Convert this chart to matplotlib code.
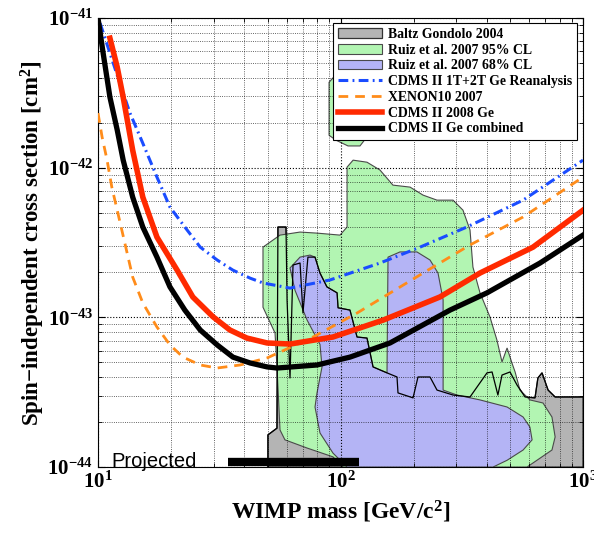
import matplotlib
matplotlib.use("Agg")
import matplotlib.pyplot as plt
from matplotlib.ticker import FixedLocator, FixedFormatter, LogLocator, NullFormatter

plt.rcParams['font.family'] = ['Liberation Serif', 'DejaVu Serif']
plt.rcParams['font.weight'] = 'bold'
plt.rcParams['mathtext.fontset'] = 'custom'
plt.rcParams['mathtext.rm'] = 'Liberation Serif:bold'
plt.rcParams['mathtext.bf'] = 'Liberation Serif:bold'
plt.rcParams['mathtext.it'] = 'Liberation Serif:bold:italic'

# --- limit curves (WIMP mass in GeV/c^2, cross section in cm^2) ---
combined_m = [10, 10.5, 11.2, 12.0, 12.7, 13.9, 15.3, 17.5, 19.8, 22.8, 26.4, 31.0, 36.0, 42.4, 49.8,
              54.7, 80.0, 109.4, 160, 283, 402, 665, 1000]
combined_s = [1e-41, 5.84e-42, 2.96e-42, 1.79e-42, 1.125e-42, 6.37e-43, 4.02e-43, 2.53e-43, 1.60e-43,
              1.12e-43, 8.24e-44, 6.55e-44, 5.43e-44, 4.96e-44, 4.67e-44, 4.59e-44, 4.81e-44, 5.43e-44,
              6.75e-44, 1.12e-43, 1.46e-43, 2.31e-43, 3.55e-43]

cdms08_m = [11.2, 12.0, 12.7, 13.9, 15.3, 17.5, 21.2, 24.6, 29.8, 35.0, 41.1, 49.8, 61.9, 93.1, 150,
            257, 376, 622, 1000]
cdms08_s = [7.35e-42, 4.71e-42, 2.96e-42, 1.31e-42, 6.37e-43, 3.44e-43, 2.07e-43, 1.37e-43, 1.01e-43,
            8.24e-44, 7.28e-44, 6.75e-44, 6.64e-44, 7.40e-44, 9.6e-44, 1.37e-43, 1.98e-43, 2.95e-43,
            5.21e-43]

reana_m = [10.2, 11.2, 12.3, 13.55, 15.3, 17.5, 19.8, 23.3, 26.4, 31.0, 36.0, 42.4, 47.9, 61.9, 90.5,
           145.5, 212.8, 332, 566, 1000]
reana_s = [9.26e-42, 5.84e-42, 3.68e-42, 2.32e-42, 1.46e-42, 8.67e-43, 5.46e-43, 3.84e-43, 2.95e-43,
           2.42e-43, 2.07e-43, 1.83e-43, 1.70e-43, 1.57e-43, 1.78e-43, 2.31e-43, 2.95e-43, 4.02e-43,
           6.08e-43, 1.125e-42]

xenon_m = [10, 10.4, 10.9, 11.4, 12.0, 12.9, 13.9, 15.3, 17.5, 19.8, 22.4, 26.4, 31.0, 38.5, 49.8,
           77.1, 117, 219, 342, 566, 1000]
xenon_s = [2.32e-42, 1.60e-42, 1.125e-42, 7.43e-43, 5.21e-43, 3.14e-43, 1.86e-43, 1.25e-43, 8.63e-44,
           6.55e-44, 5.43e-44, 4.81e-44, 4.59e-44, 4.81e-44, 5.36e-44, 7.40e-44, 1.07e-43, 1.98e-43,
           3.05e-43, 4.69e-43, 8.67e-43]

# --- allowed regions ---
baltz_m = [50.2, 50.2, 54.7, 55.2, 59.6, 60.2, 61.9, 63.7, 68.1, 70.0, 73.4, 78.5, 82.3, 87.9, 96.8,
           97.7, 109.4, 117.0, 128.6, 136.2, 155.5, 171.0, 172.6, 199.1, 208.7, 233.9, 250.0, 291.0,
           342.0, 401.8, 421.7, 445.7, 463.4, 500.0, 534.6, 576.8, 633.9, 651.6, 677.6, 717.8, 767.4,
           883.1, 1000, 1000]
baltz_s = [1e-44, 1.64e-44, 1.82e-44, 4.02e-43, 4.02e-43, 1.31e-43, 3.94e-44, 2.24e-43, 2.31e-43,
           1.07e-43, 2.53e-43, 2.53e-43, 1.98e-43, 1.60e-43, 1.46e-43, 1.16e-43, 1.12e-43, 7.40e-44,
           7.28e-44, 4.67e-44, 4.26e-44, 4.00e-44, 3.13e-44, 2.90e-44, 4.00e-44, 4.00e-44, 3.27e-44,
           3.03e-44, 2.94e-44, 4.26e-44, 4.32e-44, 3.03e-44, 4.12e-44, 4.32e-44, 3.53e-44, 2.94e-44,
           2.90e-44, 3.94e-44, 4.26e-44, 3.27e-44, 2.94e-44, 2.94e-44, 2.94e-44, 1e-44]

ruiz95_m = [47.9, 56.3, 68.1, 80.0, 99.5, 106.4, 106.4, 112.7, 128.6, 145.5, 164.5, 193.6, 218.9,
            250.0, 291.0, 319.9, 342.0, 351.6, 376.0, 413.1, 441.6, 463.4, 486.3, 509.3, 524.8,
            549.5, 604.0, 683.9, 744.7, 767.4, 744.7, 645.7, 587.5, 102.4, 93.1, 72.8, 59.0, 56.3,
            54.7, 53.7, 47.9]
ruiz95_s = [2.95e-43, 3.55e-43, 3.72e-43, 3.66e-43, 3.55e-43, 4.02e-43, 1.01e-42, 1.125e-42,
            1.09e-42, 9.66e-43, 7.66e-43, 7.43e-43, 6.57e-43, 6.08e-43, 6.08e-43, 5.21e-43,
            3.84e-43, 2.17e-43, 1.46e-43, 1.01e-43, 7.06e-44, 5.04e-44, 6.25e-44, 4.96e-44,
            4.32e-44, 3.27e-44, 2.81e-44, 2.68e-44, 2.16e-44, 1.59e-44, 1.30e-44, 1.11e-44, 1e-44,
            1e-44, 1.17e-44, 1.34e-44, 1.52e-44, 1.77e-44, 4.67e-44, 7.87e-44, 1.17e-43]

ruiz95_top_m = [89.7, 89.7, 95.8, 107.4, 120.3, 127.4, 127.4, 99.5]
ruiz95_top_s = [3.73e-42, 1.65e-42, 1.53e-42, 1.40e-42, 1.40e-42, 1.58e-42, 4.50e-42, 4.50e-42]

ruiz68_m = [61.9, 68.1, 74.8, 78.5, 82.3, 87.9, 96.8, 97.7, 109.4, 117.0, 128.6, 136.2, 155.5,
            157.0, 175.9, 206.6, 233.9, 252.4, 264.9, 264.9, 302.2, 376.0, 486.3, 566.2, 604.0,
            616.6, 566.2, 486.3, 425.6, 106.4, 93.1, 82.3, 78.5, 80.0, 83.9, 82.3, 72.8, 64.9]
ruiz68_s = [2.14e-43, 2.53e-43, 2.61e-43, 2.53e-43, 1.98e-43, 1.60e-43, 1.46e-43, 1.16e-43,
            1.12e-43, 7.40e-44, 7.28e-44, 4.67e-44, 4.26e-44, 2.53e-43, 2.74e-43, 2.74e-43,
            2.42e-43, 1.98e-43, 1.31e-43, 3.27e-44, 3.03e-44, 2.81e-44, 2.52e-44, 2.16e-44,
            1.85e-44, 1.52e-44, 1.30e-44, 1.11e-44, 1e-44, 1e-44, 1.24e-44, 1.69e-44, 2.52e-44,
            3.13e-44, 4.67e-44, 6.6e-44, 9.61e-44, 1.52e-43]

projected_m = [34.2, 118.9]
projected_s = [1.08e-44, 1.08e-44]

x_tick_exp = [1, 2, 3]
y_tick_exp = [-44, -43, -42, -41]

fig = plt.figure(figsize=(5.94, 5.35), dpi=100)
ax = fig.add_axes([0.165, 0.127, 0.8165, 0.839])
ax.set_xscale('log')
ax.set_yscale('log')

h_baltz = ax.fill(baltz_m, baltz_s, facecolor='#b4b4b4', edgecolor='#333333', linewidth=0.9,
                  zorder=1, label='Baltz Gondolo 2004')[0]
h_r95 = ax.fill(ruiz95_m, ruiz95_s, facecolor='#b2f5b2', edgecolor='#4a4a4a', linewidth=0.8,
                zorder=1.1, label='Ruiz et al. 2007 95% CL')[0]
ax.fill(ruiz95_top_m, ruiz95_top_s, facecolor='#b2f5b2', edgecolor='#4a4a4a', linewidth=0.8, zorder=1.1)
h_r68 = ax.fill(ruiz68_m, ruiz68_s, facecolor='#b4b4f5', edgecolor='#4a4a4a', linewidth=0.8,
                zorder=1.2, label='Ruiz et al. 2007 68% CL')[0]
# outline of the Baltz-Gondolo region shows through the other fills
ax.plot(baltz_m[:-1], baltz_s[:-1], color='black', linewidth=0.9, zorder=1.3)

l_re, = ax.plot(reana_m, reana_s, color='#1a4cff', linewidth=2.2, linestyle=(0, (3.2, 1.4, 0.6, 1.4)),
                zorder=3, label='CDMS II 1T+2T Ge Reanalysis')
l_xe, = ax.plot(xenon_m, xenon_s, color='#ff8c1a', linewidth=2.0, linestyle=(0, (3.5, 2.5)),
                zorder=3, label='XENON10 2007')
l_08, = ax.plot(cdms08_m, cdms08_s, color='#ff2a00', linewidth=4.0, zorder=3.1,
                solid_joinstyle='round', label='CDMS II 2008 Ge')
l_co, = ax.plot(combined_m, combined_s, color='black', linewidth=3.8, zorder=3.2,
                solid_joinstyle='round', label='CDMS II Ge combined')

ax.plot(projected_m, projected_s, color='black', linewidth=6, solid_capstyle='butt', zorder=3.3)
ax.text(11.3, 1.0e-44, 'Projected', family='Liberation Sans', fontweight='normal', fontsize=14.5,
        ha='left', va='baseline', zorder=4)

ax.set_xlim(10, 1000)
ax.set_ylim(1e-44, 1e-41)

ax.xaxis.set_major_locator(FixedLocator([10.0 ** e for e in x_tick_exp]))
ax.xaxis.set_major_formatter(FixedFormatter(['$10^{%d}$' % e for e in x_tick_exp]))
ax.yaxis.set_major_locator(FixedLocator([10.0 ** e for e in y_tick_exp]))
ax.yaxis.set_major_formatter(FixedFormatter(['$10^{%d}$' % e for e in y_tick_exp]))
ax.xaxis.set_minor_locator(LogLocator(base=10, subs=range(2, 10)))
ax.yaxis.set_minor_locator(LogLocator(base=10, subs=range(2, 10)))
ax.xaxis.set_minor_formatter(NullFormatter())
ax.yaxis.set_minor_formatter(NullFormatter())

ax.tick_params(which='both', direction='in', top=True, right=True, labelsize=15)
ax.tick_params(which='major', length=5)
ax.tick_params(which='minor', length=3)
ax.set_axisbelow(False)
ax.grid(True, which='major', linestyle=':', color='black', linewidth=0.8)
ax.grid(True, which='minor', linestyle=':', color='black', linewidth=0.6, alpha=0.8)

ax.set_xlabel('WIMP mass [GeV/c$^2$]', fontsize=17, fontweight='bold')
ax.set_ylabel('Spin\u2212independent cross section [cm$^2$]', fontsize=16.5, fontweight='bold',
              labelpad=0)

leg = ax.legend(handles=[h_baltz, h_r95, h_r68, l_re, l_xe, l_08, l_co], loc='upper right',
                bbox_to_anchor=(0.988, 0.989), borderaxespad=0, handlelength=3.2,
                handletextpad=0.45, labelspacing=0.2, borderpad=0.35, fancybox=False,
                framealpha=1, edgecolor='black',
                prop={'family': 'Liberation Serif', 'weight': 'bold', 'size': 9.9})
leg.get_frame().set_linewidth(0.8)

fig.savefig('out.png', dpi=100)
